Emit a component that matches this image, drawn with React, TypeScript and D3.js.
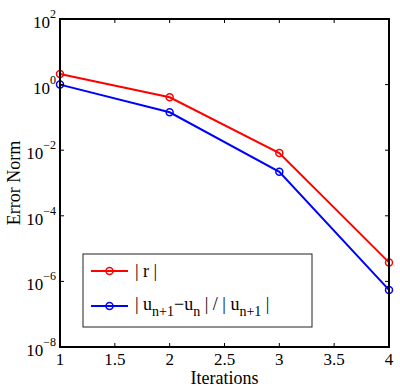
import React from "react";
import * as d3 from "d3";

const iterations = [1, 2, 3, 4];
const residualNorm = [2.1, 0.41, 0.0082, 3.8e-6];
const updateNorm = [1.0, 0.143, 0.0022, 5.5e-7];
const xTicks = [1, 1.5, 2, 2.5, 3, 3.5, 4];
const yTickExps = [2, 0, -2, -4, -6, -8];

const W = 400, H = 390;
const M = { left: 60, right: 11, top: 19, bottom: 43 };
const FONT = "'Liberation Serif', 'Times New Roman', serif";

export default function App() {
  const x = d3.scaleLinear().domain([1, 4]).range([M.left, W - M.right]);
  const y = d3.scaleLog().domain([1e-8, 1e2]).range([H - M.bottom, M.top]);
  const line = d3.line<number>().x((_, i) => x(iterations[i])).y((v) => y(v));
  const x0 = x(1), x1 = x(4), y0 = y(1e-8), y1 = y(1e2);
  const tl = 4;
  const series = [
    { values: residualNorm, color: "#ff0000" },
    { values: updateNorm, color: "#0000ff" },
  ];
  const lg = { x: 83, y: 254, w: 229, h: 73 };
  return (
    <svg width={W} height={H} style={{ position: "absolute", left: 0, top: 0 }} fontFamily={FONT}>
      <rect width={W} height={H} fill="#fff" />
      {series.map((s, k) => (
        <g key={k}>
          <path d={line(s.values) || ""} fill="none" stroke={s.color} strokeWidth={2} />
          {s.values.map((v, i) => (
            <circle key={i} cx={x(iterations[i])} cy={y(v)} r={3.5} fill="none" stroke={s.color} strokeWidth={1.5} />
          ))}
        </g>
      ))}
      {xTicks.map((t) => (
        <g key={"x" + t}>
          <line x1={x(t)} x2={x(t)} y1={y0} y2={y0 - tl} stroke="#000" strokeWidth={1} />
          <line x1={x(t)} x2={x(t)} y1={y1} y2={y1 + tl} stroke="#000" strokeWidth={1} />
          <text x={x(t)} y={y0 + 18} textAnchor="middle" fontSize={17} fontFamily={FONT}>{t}</text>
        </g>
      ))}
      {yTickExps.map((e) => (
        <g key={"y" + e}>
          <line x1={x0} x2={x0 + tl} y1={y(Math.pow(10, e))} y2={y(Math.pow(10, e))} stroke="#000" strokeWidth={1} />
          <line x1={x1} x2={x1 - tl} y1={y(Math.pow(10, e))} y2={y(Math.pow(10, e))} stroke="#000" strokeWidth={1} />
          <text x={56} y={y(Math.pow(10, e)) + 9} textAnchor="end" fontSize={17} fontFamily={FONT}>
            10<tspan dy={-10} fontSize={12}>{e < 0 ? "\u2212" + -e : String(e)}</tspan>
          </text>
        </g>
      ))}
      <rect x={x0} y={y1} width={x1 - x0} height={y0 - y1} fill="none" stroke="#000" strokeWidth={2} />
      <rect x={lg.x} y={lg.y} width={lg.w} height={lg.h} fill="#fff" stroke="#222" strokeWidth={1} />
      {series.map((s, k) => {
        const ly = lg.y + 17 + k * 35;
        return (
          <g key={"l" + k}>
            <line x1={91} x2={128} y1={ly} y2={ly} stroke={s.color} strokeWidth={2} />
            <circle cx={109.5} cy={ly} r={3.5} fill="none" stroke={s.color} strokeWidth={1.5} />
          </g>
        );
      })}
      <text x={135} y={lg.y + 23} fontSize={18} fontFamily={FONT}>| r |</text>
      <text x={135} y={lg.y + 56} fontSize={18} fontFamily={FONT}>
        | u<tspan dy={6} fontSize={14}>n+1</tspan>
        <tspan dy={-6}>{"\u2212"}u</tspan>
        <tspan dy={6} fontSize={14}>n</tspan>
        <tspan dy={-6}>{" | / | u"}</tspan>
        <tspan dy={6} fontSize={14}>n+1</tspan>
        <tspan dy={-6}>{" |"}</tspan>
      </text>
      <text x={(x0 + x1) / 2} y={384} textAnchor="middle" fontSize={18} fontFamily={FONT}>Iterations</text>
      <text transform={`translate(20,${(y0 + y1) / 2}) rotate(-90)`} textAnchor="middle" fontSize={18} fontFamily={FONT}>Error Norm</text>
    </svg>
  );
}
